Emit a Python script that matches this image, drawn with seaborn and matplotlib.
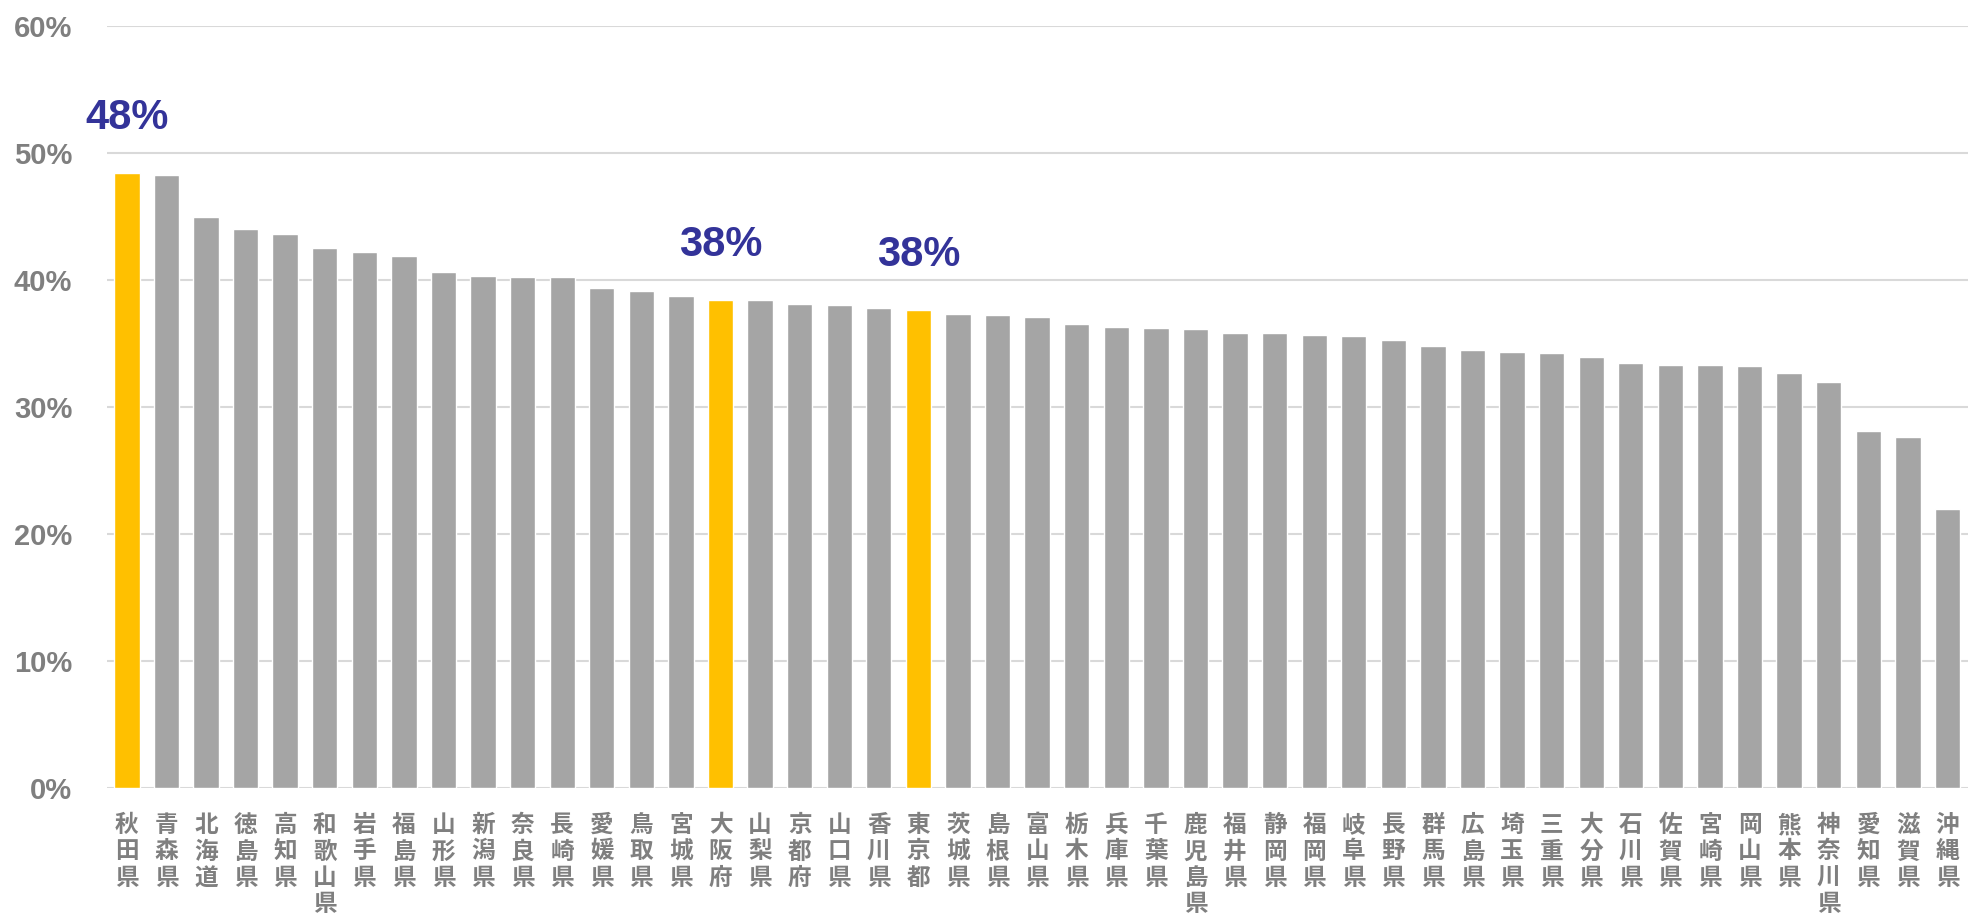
import matplotlib
matplotlib.use("Agg")
import matplotlib.pyplot as plt
import seaborn as sns
import pandas as pd

prefectures = ["秋田県", "青森県", "北海道", "徳島県", "高知県", "和歌山県", "岩手県", "福島県",
               "山形県", "新潟県", "奈良県", "長崎県", "愛媛県", "鳥取県", "宮城県", "大阪府",
               "山梨県", "京都府", "山口県", "香川県", "東京都", "茨城県", "島根県", "富山県",
               "栃木県", "兵庫県", "千葉県", "鹿児島県", "福井県", "静岡県", "福岡県", "岐阜県",
               "長野県", "群馬県", "広島県", "埼玉県", "三重県", "大分県", "石川県", "佐賀県",
               "宮崎県", "岡山県", "熊本県", "神奈川県", "愛知県", "滋賀県", "沖縄県"]
values = [48.4, 48.3, 45.0, 44.0, 43.6, 42.5, 42.2, 41.9,
          40.6, 40.3, 40.2, 40.2, 39.4, 39.1, 38.75, 38.4,
          38.4, 38.1, 38.0, 37.8, 37.6, 37.3, 37.25, 37.1,
          36.5, 36.3, 36.2, 36.15, 35.8, 35.8, 35.7, 35.6,
          35.3, 34.8, 34.5, 34.3, 34.25, 33.9, 33.5, 33.3,
          33.3, 33.2, 32.7, 32.0, 28.1, 27.6, 22.0]
highlighted = ["秋田県", "大阪府", "東京都"]
y_ticks = [0, 10, 20, 30, 40, 50, 60]

YELLOW = "#FFC000"
GRAY = "#A5A5A5"

df = pd.DataFrame({"pref": prefectures, "value": values})
palette = {p: (YELLOW if p in highlighted else GRAY) for p in prefectures}

sns.set_theme(style="white")
plt.rcParams["font.family"] = ["Liberation Sans", "Noto Sans CJK JP", "DejaVu Sans"]

fig = plt.figure(figsize=(19.68, 9.13), dpi=100)
ax = fig.add_axes([0.0544, 0.1369, 0.9456, 0.8346])

sns.barplot(data=df, x="pref", y="value", hue="pref", order=prefectures,
            palette=palette, legend=False, width=0.64, saturation=1,
            ax=ax, zorder=3)

ax.set_ylim(0, 60)
ax.set_xlim(-0.5, len(prefectures) - 0.48)
ax.set_yticks(y_ticks)
ax.set_yticklabels([f"{t}%" for t in y_ticks], fontsize=21, color="#7F7F7F",
                   fontweight="bold", family=["Liberation Sans", "DejaVu Sans"])
ax.yaxis.grid(True, color="#D9D9D9", linewidth=1.5, zorder=0)
ax.xaxis.grid(False)
for s in ax.spines.values():
    s.set_visible(False)
ax.tick_params(axis="y", length=0, pad=25)
ax.tick_params(axis="x", length=0, pad=18)

ax.set_xticks(range(len(prefectures)))
ax.set_xticklabels(["\n".join(p) for p in prefectures], fontsize=17, color="#7F7F7F",
                   fontweight="bold", linespacing=1.13, va="top",
                   family=["Noto Sans CJK JP", "DejaVu Sans"])
ax.set_xlabel("")
ax.set_ylabel("")

for i, (p, v) in enumerate(zip(prefectures, values)):
    if p in highlighted:
        ax.annotate(f"{round(v)}%", xy=(i, v), xytext=(0, 40), textcoords="offset points",
                    ha="center", va="center", fontsize=30, fontweight="bold",
                    color="#333399", family=["Liberation Sans", "DejaVu Sans"])

fig.savefig("out.png", dpi=100)
